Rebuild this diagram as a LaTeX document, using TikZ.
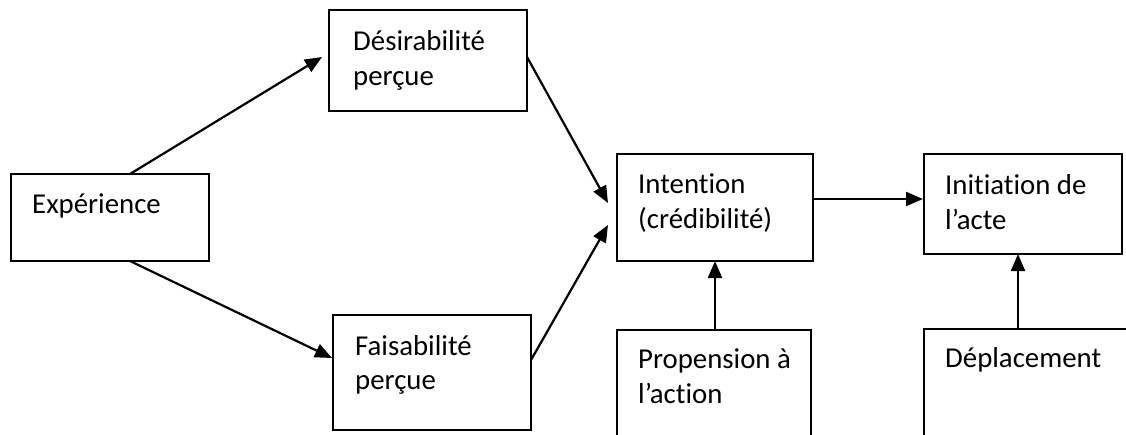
\documentclass[tikz,border=0pt]{standalone}
\usepackage{fontspec}
\setmainfont{Carlito}[Ligatures={NoCommon,NoContextual},Contextuals=NoAlternate]
\usetikzlibrary{arrows.meta,calc}
\begin{document}
\begin{tikzpicture}[x=1pt,y=-1pt,
  box/.style={draw=black,line width=2pt,anchor=north west,inner sep=0pt,outer sep=0pt},
  txt/.style={anchor=base west,inner sep=0pt,font=\fontsize{28.8}{35}\selectfont},
  flow/.style={line width=2.2pt,-{Triangle[length=17pt,width=14pt]}}]
\useasboundingbox (0,0) rectangle (1126,434);
\fill[white] (0,0) rectangle (1126,434);
\clip (0,0) rectangle (1126,434);
% boxes
\node[box,minimum width=198pt,minimum height=87pt]  (exp) at (11,174) {};
\node[box,minimum width=198pt,minimum height=101pt] (des) at (329,10) {};
\node[box,minimum width=198pt,minimum height=115pt] (fai) at (333,315) {};
\node[box,minimum width=196pt,minimum height=107pt] (int) at (617,154) {};
\node[box,minimum width=198pt,minimum height=100pt] (ini) at (924,154) {};
\node[box,minimum width=194pt,minimum height=130pt] (pro) at (617,330) {};
\node[box,minimum width=230pt,minimum height=130pt] (dep) at (924,329) {};
% labels (t and i kept apart)
\node[txt] (expT)  at (32,213)  {Expérience};
\node[txt] (desT1) at (353,50)  {Désirabilité};
\node[txt] (desT2) at (353,85)  {perçue};
\node[txt] (faiT1) at (355,355) {Faisabilité};
\node[txt] (faiT2) at (355,389) {perçue};
\node[txt] (intT1) at (638,193) {Intent\kern0pt ion};
\node[txt] (intT2) at (638,228) {(crédibilité)};
\node[txt] (iniT1) at (945,194) {Init\kern0pt iat\kern0pt ion de};
\node[txt] (iniT2) at (945,229) {l’acte};
\node[txt] (proT1) at (638,368) {Propension à};
\node[txt] (proT2) at (638,403) {l’act\kern0pt ion};
\node[txt] (depT)  at (945,367) {Déplacement};
% connectors
\draw[flow] ($(exp.north west)+(119,0)$) -- ($(des.west)+(-7,-3.5)$);
\draw[flow] ($(exp.south west)+(119,0)$) -- ($(fai.west)+(-1,-14.5)$);
\draw[flow] ($(des.east)+(0,-3.5)$) -- ($(int.west)+(-9,-4.5)$);
\draw[flow] ($(fai.east)+(0,-12.5)$) -- ($(int.west)+(-9,17.5)$);
\draw[flow] ($(int.east)+(0,-8.5)$) -- ($(ini.west)+(-1,-5)$);
\draw[flow] ($(pro.north west)+(98,0)$) -- ($(int.south west)+(98,0)$);
\draw[flow] ($(dep.north west)+(94,0)$) -- ($(ini.south west)+(94,0)$);
\end{tikzpicture}
\end{document}
